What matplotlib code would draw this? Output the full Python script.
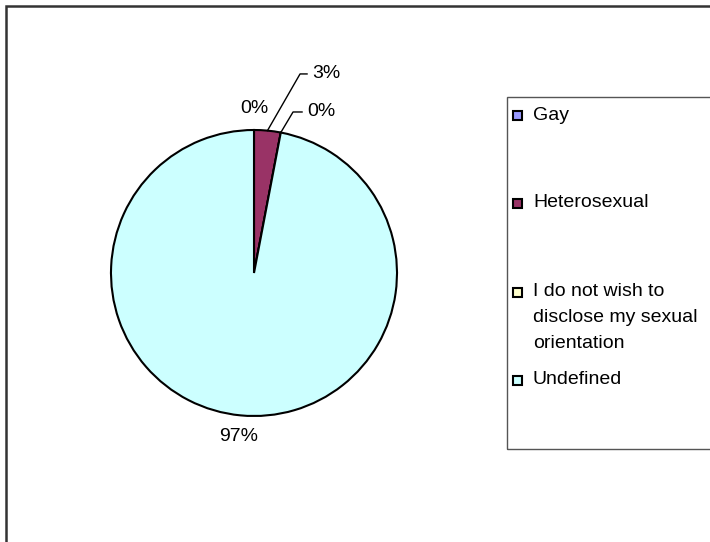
import numpy as np
import matplotlib
matplotlib.use('Agg')
import matplotlib.pyplot as plt
from matplotlib.patches import Rectangle

plt.rcParams['font.family'] = ['Liberation Sans', 'DejaVu Sans']

categories = ['Gay', 'Heterosexual',
              'I do not wish to\ndisclose my sexual\norientation', 'Undefined']
shares = [0, 3, 0, 97]
colors = ['#9999FF', '#993366', '#FFFFCC', '#CCFFFF']

FS = 14

fig = plt.figure(figsize=(7.1, 5.42), dpi=100)
W, H = 710, 542

def px(x, y):
    # pixel position (top-left origin) -> figure fraction
    return x / W, 1 - y / H

# outer chart border (runs off the right and bottom edges)
fig.patches.append(Rectangle(px(6, 560), 760 / W, 554 / H, transform=fig.transFigure,
                             fill=False, edgecolor='#333333', linewidth=1.8))

# pie: centre at (254, 273) px, radius 143 px
lim = 1.6
half = lim * 143
ax = fig.add_axes([(254 - half) / W, (H - 273 - half) / H, 2 * half / W, 2 * half / H])
wedges, _ = ax.pie(shares, colors=colors, startangle=90, counterclock=False, radius=1,
                   wedgeprops=dict(edgecolor='black', linewidth=1.5))
ax.set_xlim(-lim, lim)
ax.set_ylim(-lim, lim)
ax.axis('off')

total = sum(shares)
pct = [f"{v / total * 100:.0f}%" for v in shares]

def mid(w):
    return np.deg2rad((w.theta1 + w.theta2) / 2)

# plain labels just outside the pie
for i in (0, 3):
    a = mid(wedges[i])
    ax.text(1.15 * np.cos(a), 1.15 * np.sin(a), pct[i], ha='center', va='center',
            fontsize=FS, clip_on=False)

# labels pulled out with leader lines: (elbow, end of tail, text x)
leaders = {1: ((0.322, 1.392), 0.371, 0.406),
           2: ((0.273, 1.126), 0.336, 0.371)}
for i, ((ex, ey), tx, lx) in leaders.items():
    a = mid(wedges[i])
    x0, y0 = np.cos(a), np.sin(a)
    ax.plot([x0, ex, tx], [y0, ey, ey], color='black', linewidth=1.0, clip_on=False)
    ax.text(lx, ey, pct[i], ha='left', va='center', fontsize=FS, clip_on=False)

# legend box
fig.patches.append(Rectangle(px(507, 448.5), 300 / W, 351.5 / H, transform=fig.transFigure,
                             fill=False, edgecolor='#555555', linewidth=1.0))
entry_y = [115, 203, 292, 380]
for lab, col, y in zip(categories, colors, entry_y):
    fig.patches.append(Rectangle(px(513, y + 4.5), 9 / W, 9 / H, transform=fig.transFigure,
                                 facecolor=col, edgecolor='black', linewidth=1.5))
    for k, line in enumerate(lab.split('\n')):
        fig.text(*px(533, y + 25.5 * k), line, ha='left', va='center', fontsize=FS)

fig.savefig('out.png', dpi=100)
